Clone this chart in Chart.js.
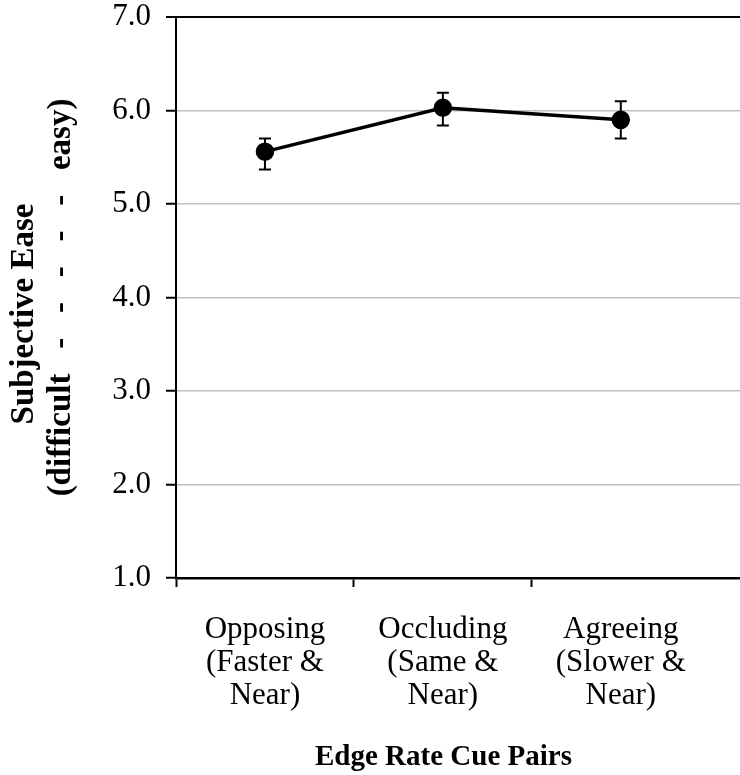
<!DOCTYPE html>
<html>
<head>
<meta charset="utf-8">
<script src="https://cdn.jsdelivr.net/npm/chart.js@4"></script>
<style>
  html, body { margin: 0; padding: 0; background: #fff; overflow: hidden; }
</style>
</head>
<body>
<canvas id="easeChart" width="740" height="775"></canvas>
<script>
// дані
const categories = [
    ['Opposing', '(Faster &', 'Near)'],
    ['Occluding', '(Same &', 'Near)'],
    ['Agreeing', '(Slower &', 'Near)']
];
const meanEase = [5.56, 6.03, 5.90];
const errLow   = [5.37, 5.84, 5.70];
const errHigh  = [5.70, 6.19, 6.10];
const yTicks   = [1, 2, 3, 4, 5, 6, 7];

const yTitle = ['Subjective Ease\u00a0\u00a0\u00a0\u00a0', '(difficult   -   -   -   -   -   easy)'];
const xTitle = 'Edge Rate Cue Pairs';

const serif = "'Liberation Serif', 'Times New Roman', serif";

// межі категорій для рисок на осі X
const boundaryTicks = [-0.5, 0.5, 1.5];

// вуса похибок
const errorBars = {
    id: 'errorBars',
    afterDatasetsDraw(chart) {
        const { ctx, scales: { x, y } } = chart;
        ctx.save();
        ctx.strokeStyle = '#000';
        ctx.lineWidth = 2;
        meanEase.forEach((v, i) => {
            const px = x.getPixelForValue(i);
            const top = y.getPixelForValue(errHigh[i]);
            const bot = y.getPixelForValue(errLow[i]);
            ctx.beginPath();
            ctx.moveTo(px, top); ctx.lineTo(px, bot);
            ctx.moveTo(px - 6, top); ctx.lineTo(px + 6, top);
            ctx.moveTo(px - 6, bot); ctx.lineTo(px + 6, bot);
            ctx.stroke();
        });
        ctx.restore();
    }
};

const ctx = document.getElementById('easeChart').getContext('2d');
const easeChart = new Chart(ctx, {
    type: 'line',
    data: {
        datasets: [{
            data: meanEase.map((v, i) => ({ x: i, y: v })),
            borderColor: '#000', borderWidth: 3.5,
            pointRadius: 7.5, pointBackgroundColor: '#000', pointBorderColor: '#000',
            tension: 0
        }]
    },
    options: {
        responsive: false, animation: false, devicePixelRatio: 1,
        layout: { autoPadding: false, padding: { top: 0, right: 0, bottom: 0, left: 0 } },
        plugins: { legend: { display: false }, tooltip: { enabled: false } },
        scales: {
            x: {
                type: 'linear', min: -0.5, max: 2.67,
                afterBuildTicks: s => {
                    s.ticks = boundaryTicks.concat(categories.map((c, i) => i))
                        .sort((a, b) => a - b).map(v => ({ value: v }));
                },
                afterFit: s => { s.height = 197; },
                ticks: {
                    autoSkip: false, maxRotation: 0, padding: 26, color: '#000',
                    font: { family: serif, size: 31, lineHeight: 1.07 },
                    callback: v => Number.isInteger(v) ? categories[v] : ''
                },
                grid: {
                    drawOnChartArea: false, tickLength: 9, tickWidth: 2,
                    tickColor: c => Number.isInteger(c.tick.value) ? 'rgba(0,0,0,0)' : '#000'
                },
                border: { display: true, color: '#000', width: 2.5 },
                title: {
                    display: true, text: xTitle + '\u00a0\u00a0\u00a0\u00a0', color: '#000',
                    font: { family: serif, size: 29, weight: 'bold', lineHeight: 1.2 },
                    padding: { top: 0, bottom: 0 }
                }
            },
            y: {
                min: 1, max: 7,
                afterBuildTicks: s => { s.ticks = yTicks.map(v => ({ value: v })); },
                afterFit: s => { s.width = 176; s.paddingTop = 17; },
                ticks: {
                    padding: 15, color: '#000',
                    font: { family: serif, size: 31, lineHeight: 1.1 },
                    callback: v => v.toFixed(1)
                },
                grid: {
                    tickLength: 10, tickWidth: 2, tickColor: '#000',
                    color: c => c.tick.value === 7 ? '#000' : (c.tick.value === 1 ? 'rgba(0,0,0,0)' : '#bfbfbf'),
                    lineWidth: c => c.tick.value === 7 ? 2 : 1.5
                },
                border: { display: true, color: '#000', width: 2 },
                title: {
                    display: true, text: yTitle, color: '#000',
                    font: { family: serif, size: 33, weight: 'bold', lineHeight: 1.15 },
                    padding: { top: 5, bottom: 0 }
                }
            }
        }
    },
    plugins: [errorBars]
});
</script>
</body>
</html>
